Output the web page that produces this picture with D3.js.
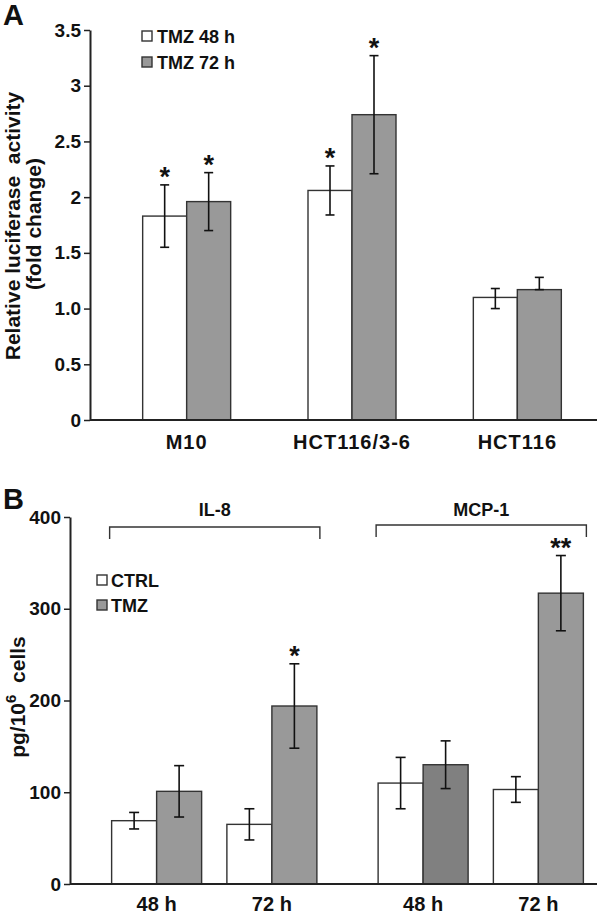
<!DOCTYPE html>
<html>
<head>
<meta charset="utf-8">
<script src="https://cdn.jsdelivr.net/npm/d3@7"></script>
<style>
  html, body { margin: 0; padding: 0; background: #fff; }
  svg { display: block; font-family: "Liberation Sans", Arial, sans-serif; font-weight: bold; }
</style>
</head>
<body>
<svg id="chart" width="600" height="916"></svg>
<script>
// ---------- Panel A data ----------
const cellLines = ["M10", "HCT116/3-6", "HCT116"];
const seriesA = ["TMZ 48 h", "TMZ 72 h"];
const tmz48 = [1.83, 2.06, 1.10];
const tmz48ErrUp = [0.28, 0.22, 0.08];
const tmz48ErrLow = [0.28, 0.22, 0.10];
const tmz72 = [1.96, 2.74, 1.17];
const tmz72ErrUp = [0.26, 0.53, 0.11];
const tmz72ErrLow = [0.26, 0.53, 0.00];
const sigA48 = ["*", "*", ""];
const sigA72 = ["*", "*", ""];
const ticksA = [0, 0.5, 1.0, 1.5, 2, 2.5, 3, 3.5];
const tickLabelsA = ["0", "0.5", "1.0", "1.5", "2", "2.5", "3", "3.5"];

// ---------- Panel B data ----------
const cytokines = ["IL-8", "MCP-1"];
const times = ["48 h", "72 h"];
const seriesB = ["CTRL", "TMZ"];
// order: IL-8 48h, IL-8 72h, MCP-1 48h, MCP-1 72h
const ctrl = [69, 65, 110, 103];
const ctrlErr = [9, 17, 28, 14];
const tmz = [101, 194, 130, 317];
const tmzErr = [28, 46, 26, 41];
const sigB = ["", "*", "", "**"];
const ticksB = [0, 100, 200, 300, 400];
const tickLabelsB = ["0", "100", "200", "300", "400"];

// ---------- styles ----------
const WHITE = "#ffffff", GRAY = "#999999", DARKGRAY = "#808080";
const STROKE = "#333333", INK = "#111111";

const svg = d3.select("#chart");

function styleAxis(g, fs) {
  g.selectAll(".domain").attr("stroke", "#222").attr("stroke-width", 2);
  g.selectAll(".tick line").attr("stroke", "#222").attr("stroke-width", 1.5);
  g.selectAll(".tick text").attr("fill", INK).style("font-size", fs + "px")
    .style("font-family", "'Liberation Sans', Arial, sans-serif").style("font-weight", "bold");
}

function errBar(g, x, yTop, yBot, cap) {
  g.append("line").attr("x1", x).attr("x2", x).attr("y1", yTop).attr("y2", yBot)
    .attr("stroke", INK).attr("stroke-width", 1.6);
  g.append("line").attr("x1", x - cap).attr("x2", x + cap).attr("y1", yTop).attr("y2", yTop)
    .attr("stroke", INK).attr("stroke-width", 1.6);
  if (yBot !== yTop) {
    g.append("line").attr("x1", x - cap).attr("x2", x + cap).attr("y1", yBot).attr("y2", yBot)
      .attr("stroke", INK).attr("stroke-width", 1.6);
  }
}

// =================== Panel A ===================
(function () {
  const left = 90, right = 597, top = 30, bottom = 420;
  const y = d3.scaleLinear().domain([0, 3.5]).range([bottom, top]);
  const x = d3.scaleBand().domain(cellLines).range([104, 600]).paddingInner(0).paddingOuter(0);
  const barW = 44;

  const g = svg.append("g");

  cellLines.forEach((c, i) => {
    const cx = x(c) + x.bandwidth() / 2;
    const bars = [
      { v: tmz48[i], up: tmz48ErrUp[i], lo: tmz48ErrLow[i], fill: WHITE, x0: cx - barW, sig: sigA48[i] },
      { v: tmz72[i], up: tmz72ErrUp[i], lo: tmz72ErrLow[i], fill: GRAY, x0: cx, sig: sigA72[i] }
    ];
    bars.forEach(b => {
      g.append("rect").attr("x", b.x0).attr("y", y(b.v)).attr("width", barW)
        .attr("height", y(0) - y(b.v)).attr("fill", b.fill).attr("stroke", STROKE).attr("stroke-width", 1.4);
      const mx = b.x0 + barW / 2;
      errBar(g, mx, y(b.v + b.up), y(b.v - b.lo), 4.5);
      if (b.sig) {
        g.append("text").attr("x", mx).attr("y", y(b.v + b.up) + 1).attr("text-anchor", "middle")
          .style("font-size", "27px").attr("fill", INK).text(b.sig);
      }
    });
  });

  const ay = g.append("g").attr("transform", `translate(${left},0)`)
    .call(d3.axisLeft(y).tickValues(ticksA).tickFormat((d, i) => tickLabelsA[i]).tickSize(6).tickSizeOuter(0).tickPadding(3));
  styleAxis(ay, 19);
  g.append("line").attr("x1", left).attr("x2", right).attr("y1", bottom).attr("y2", bottom)
    .attr("stroke", "#222").attr("stroke-width", 2);

  cellLines.forEach(c => {
    g.append("text").attr("x", x(c) + x.bandwidth() / 2).attr("y", 449).attr("text-anchor", "middle")
      .style("font-size", "20px").style("letter-spacing", "1px").attr("fill", INK).text(c);
  });

  const yl = g.append("text").attr("transform", "translate(20,226) rotate(-90)")
    .attr("text-anchor", "middle").style("font-size", "21px").attr("fill", INK);
  yl.append("tspan").attr("x", 0).attr("y", 0).attr("xml:space", "preserve").text("Relative luciferase  activity");
  g.append("text").attr("transform", "translate(41,224) rotate(-90)")
    .attr("text-anchor", "middle").style("font-size", "21px").attr("fill", INK).text("(fold change)");

  g.append("text").attr("x", 3).attr("y", 25).style("font-size", "29px").attr("fill", INK).text("A");

  const legFills = [WHITE, GRAY];
  seriesA.forEach((s, i) => {
    const ly = 31 + i * 26;
    g.append("rect").attr("x", 142).attr("y", ly).attr("width", 10).attr("height", 10)
      .attr("fill", legFills[i]).attr("stroke", STROKE).attr("stroke-width", 1.4);
    g.append("text").attr("x", 157).attr("y", ly + 12).style("font-size", "18px").attr("fill", INK).text(s);
  });
})();

// =================== Panel B ===================
(function () {
  const left = 70, right = 597, top = 517, bottom = 884;
  const y = d3.scaleLinear().domain([0, 400]).range([bottom, top]);
  const xOuter = d3.scaleBand().domain(cytokines).range([99, 596]).paddingInner(0.135).paddingOuter(0);
  const xInner = d3.scaleBand().domain(times).range([0, xOuter.bandwidth()]).padding(0);
  const barW = 45;

  const g = svg.append("g");

  const rows = [];
  cytokines.forEach((c, ci) => times.forEach((t, ti) => rows.push({ c, t, i: ci * times.length + ti })));

  rows.forEach(r => {
    const cx = xOuter(r.c) + xInner(r.t) + xInner.bandwidth() / 2;
    const tmzFill = (r.c === "MCP-1" && r.t === "48 h") ? DARKGRAY : GRAY;
    const bars = [
      { v: ctrl[r.i], e: ctrlErr[r.i], fill: WHITE, x0: cx - barW, sig: "" },
      { v: tmz[r.i], e: tmzErr[r.i], fill: tmzFill, x0: cx, sig: sigB[r.i] }
    ];
    bars.forEach(b => {
      g.append("rect").attr("x", b.x0).attr("y", y(b.v)).attr("width", barW)
        .attr("height", y(0) - y(b.v)).attr("fill", b.fill).attr("stroke", STROKE).attr("stroke-width", 1.4);
      const mx = b.x0 + barW / 2;
      errBar(g, mx, y(b.v + b.e), y(b.v - b.e), 5);
      if (b.sig) {
        g.append("text").attr("x", mx).attr("y", y(b.v + b.e) + 1).attr("text-anchor", "middle")
          .style("font-size", "27px").attr("fill", INK).text(b.sig);
      }
    });
    g.append("text").attr("x", cx).attr("y", 911).attr("text-anchor", "middle")
      .style("font-size", "20px").attr("fill", INK).text(r.t);
  });

  cytokines.forEach((c, ci) => {
    const x0 = xOuter(c) + xInner(times[0]) + xInner.bandwidth() / 2 - barW - 2;
    const x1 = xOuter(c) + xInner(times[times.length - 1]) + xInner.bandwidth() / 2 + barW + 3;
    const by = ci === 0 ? 527 : 525;
    g.append("path").attr("d", `M${x0},${by + 12}V${by}H${x1}V${by + 12}`)
      .attr("fill", "none").attr("stroke", "#333").attr("stroke-width", 1.4);
    g.append("text").attr("x", (x0 + x1) / 2).attr("y", 516).attr("text-anchor", "middle")
      .style("font-size", "18px").attr("fill", INK).text(c);
  });

  const ay = g.append("g").attr("transform", `translate(${left},0)`)
    .call(d3.axisLeft(y).tickValues(ticksB).tickFormat((d, i) => tickLabelsB[i]).tickSize(6).tickSizeOuter(0).tickPadding(3));
  styleAxis(ay, 19);
  g.append("line").attr("x1", left).attr("x2", right).attr("y1", bottom).attr("y2", bottom)
    .attr("stroke", "#222").attr("stroke-width", 2);

  const yl = g.append("text").attr("transform", "translate(25,697) rotate(-90)")
    .attr("text-anchor", "middle").style("font-size", "21px").attr("fill", INK).attr("xml:space", "preserve");
  yl.append("tspan").text("pg/10");
  yl.append("tspan").attr("dy", -9).style("font-size", "15px").text("6");
  yl.append("tspan").attr("dy", 9).text("  cells");

  g.append("text").attr("x", 3).attr("y", 509).style("font-size", "29px").attr("fill", INK).text("B");

  const legFills = [WHITE, GRAY];
  seriesB.forEach((s, i) => {
    const ly = 575 + i * 25;
    g.append("rect").attr("x", 97).attr("y", ly).attr("width", 10).attr("height", 10)
      .attr("fill", legFills[i]).attr("stroke", STROKE).attr("stroke-width", 1.4);
    g.append("text").attr("x", 111).attr("y", ly + 11.5).style("font-size", "18px").attr("fill", INK).text(s);
  });
})();
</script>
</body>
</html>
